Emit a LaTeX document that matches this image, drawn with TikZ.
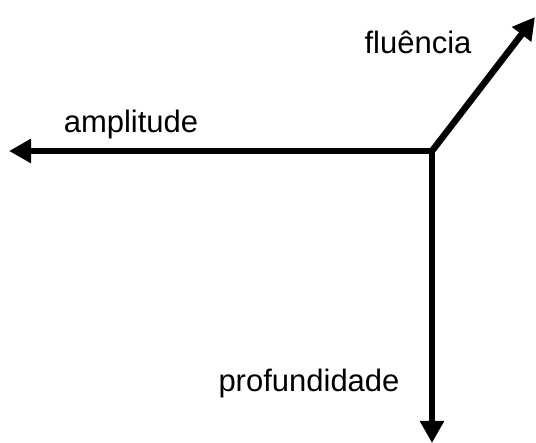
\documentclass[tikz,border=0pt]{standalone}
\usepackage{fontspec}
\setmainfont{Liberation Sans}
\usetikzlibrary{arrows.meta}

\begin{document}
\begin{tikzpicture}[x=1pt, y=-1pt,
  axis/.style={line width=6.5pt, -{Triangle[length=22pt, width=23pt]}},
  lbl/.style={font=\fontsize{31}{36}\selectfont, inner sep=0pt}
]
  \useasboundingbox (0,0) rectangle (536,443);
  % eixos
  \coordinate (o) at (432,151);
  \coordinate (l) at (9,151);
  \coordinate (d) at (432,443);
  \coordinate (u) at (535,17);
  \draw[axis] (o) -- (l);
  \draw[axis] (o) -- (d);
  \draw[axis, shorten <=-2pt] (o) -- (u);
  % rotulos
  \node[lbl] (amp) at (131,124) {amplitude};
  \node[lbl] (prof) at (309,383) {profundidade};
  \node[lbl] (flu) at (418,42) {fluência};
\end{tikzpicture}
\end{document}
